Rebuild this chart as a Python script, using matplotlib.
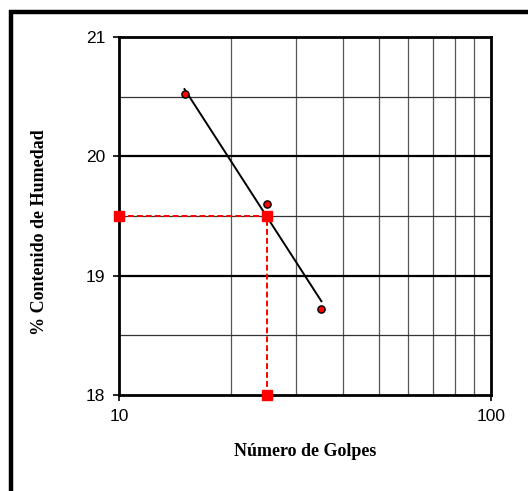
import numpy as np
import matplotlib.pyplot as plt
from matplotlib.patches import Rectangle

# datos del ensayo
golpes = [15, 25, 35]
humedad = [20.52, 19.60, 18.72]
golpes_ref = 25
humedad_ref = 19.5

plt.rcParams["font.family"] = ["Liberation Sans", "DejaVu Sans"]

fig = plt.figure(figsize=(5.28, 4.91), dpi=100)
ax = fig.add_axes([119 / 528, 1 - 395 / 491, 372 / 528, 358 / 491])

# marco exterior (cortado a la derecha y abajo)
fig.patches.append(Rectangle((11 / 528, -0.2), 1.2, 1.2 - 12 / 491,
                             transform=fig.transFigure, fill=False,
                             edgecolor="black", linewidth=3.2, zorder=0))

ax.set_xscale("log")
ax.set_xlim(10, 100)
ax.set_ylim(18, 21)

# rejilla
for gx in range(20, 100, 10):
    ax.axvline(gx, color="#555555", linewidth=0.9, zorder=1)
for gy in [18.5, 19.5, 20.5]:
    ax.axhline(gy, color="#333333", linewidth=0.9, zorder=1)
for gy in [19, 20]:
    ax.axhline(gy, color="black", linewidth=1.6, zorder=1)

# recta de ajuste en escala semilog
coef = np.polyfit(np.log10(golpes), humedad, 1)
xf = np.array([golpes[0], golpes[-1]])
ax.plot(xf, np.polyval(coef, np.log10(xf)), color="black", linewidth=1.4, zorder=3)

ax.plot(golpes, humedad, "o", markersize=5.2, markerfacecolor="red",
        markeredgecolor="black", markeredgewidth=1.0, zorder=4)

# lectura a 25 golpes
ax.plot([10, golpes_ref, golpes_ref], [humedad_ref, humedad_ref, 18],
        color="red", linestyle=(0, (3, 1.6)), linewidth=1.4,
        marker="s", markersize=6.5, clip_on=False, zorder=5)

for s in ax.spines.values():
    s.set_linewidth(2)
ax.set_xticks([10, 100])
ax.set_xticklabels(["10", "100"])
ax.xaxis.set_minor_locator(plt.NullLocator())
ax.set_yticks([18, 19, 20, 21])
ax.tick_params(direction="out", length=4, width=1.2, labelsize=12.5, pad=6)

ax.set_xlabel("Número de Golpes", family="Liberation Serif", fontweight="bold",
              fontsize=13)
ax.set_ylabel("% Contenido de Humedad", family="Liberation Serif", fontweight="bold",
              fontsize=13)
ax.xaxis.set_label_coords(0.5, -0.135)
ax.yaxis.set_label_coords(-0.19, 0.455)

fig.savefig("out.png", dpi=100)
